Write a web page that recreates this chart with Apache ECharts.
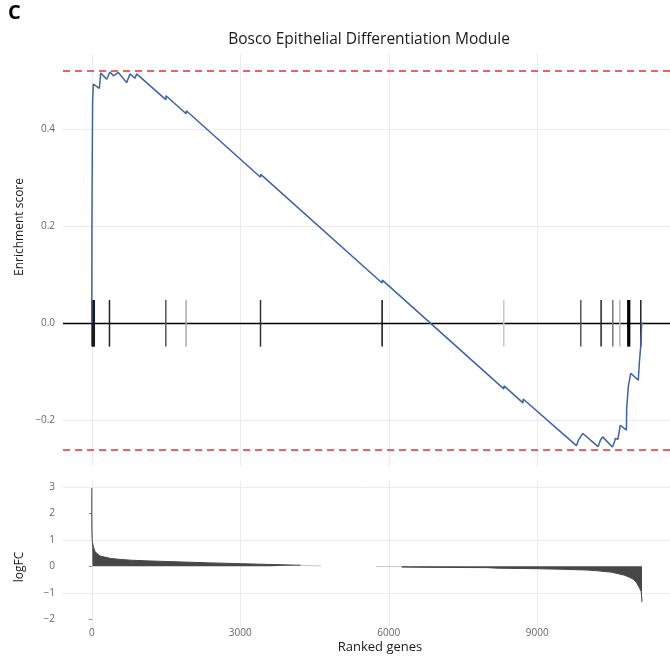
<!DOCTYPE html>
<html>
<head>
<meta charset="utf-8">
<script src="https://cdn.jsdelivr.net/npm/echarts@6/dist/echarts.min.js"></script>
<style>
html,body{margin:0;padding:0;background:#ffffff;}
#chart{width:670px;height:660px;}
</style>
</head>
<body>
<div id="chart"></div>
<script>
// ---------------- DATA ----------------
const TITLE = 'Bosco Epithelial Differentiation Module';
const PANEL_LABEL = 'C';
const X_TITLE = 'Ranked genes';
const ES_TITLE = 'Enrichment score';
const FC_TITLE = 'logFC';

const X_TICKS = [0, 3000, 6000, 9000];
const ES_TICKS = [-0.2, 0.0, 0.2, 0.4];
const FC_TICKS = [-2, -1, 0, 1, 2, 3];

// running enrichment score (vertices of the curve)
const esRank = [0, 2, 5, 9, 16, 31, 152, 180, 300, 367, 435, 536, 704, 771, 872, 906,
  1495, 1500, 1905, 1910, 3408, 3413, 5865, 5870, 8323, 8328, 8710, 8715,
  9790, 9835, 9860, 9885, 9920, 10228, 10275, 10290, 10320, 10518, 10560, 10576, 10628, 10677,
  10800, 10806, 10838, 10887, 11040, 11061, 11089, 11109, 11135];
const esValue = [0, 0.186, 0.26, 0.333, 0.455, 0.493, 0.484, 0.516, 0.503, 0.518, 0.510, 0.517, 0.496, 0.514, 0.505, 0.514,
  0.461, 0.469, 0.432, 0.438, 0.301, 0.307, 0.083, 0.089, -0.135, -0.129, -0.164, -0.156,
  -0.252, -0.240, -0.243, -0.232, -0.227, -0.254, -0.241, -0.244, -0.234, -0.255, -0.244, -0.237, -0.239, -0.210,
  -0.220, -0.175, -0.131, -0.103, -0.117, -0.082, -0.048, 0.0, 0.0];

// positions of the gene-set members in the ranking
const hitRank = [5, 20, 35, 50, 357, 1495, 1905, 3408, 5865, 8323, 9879, 10289, 10525, 10667, 10830, 10845, 10865, 11091];

// ranked logFC profile (positive head, negative tail)
const posRank = [0, 1, 4, 12, 30, 65, 165, 370, 570, 800, 1200, 1700, 2400, 3000, 3600, 4220, 4240, 4630];
const posFC   = [2.95, 1.56, 1.1, 0.93, 0.75, 0.55, 0.39, 0.30, 0.26, 0.23, 0.20, 0.17, 0.13, 0.10, 0.07, 0.04, 0.012, 0.008];
const negRank = [5740, 6240, 6260, 7000, 8000, 8200, 9000, 9500, 10000, 10220, 10500, 10750, 10850, 10950, 11010, 11060, 11100, 11115];
const negFC   = [-0.008, -0.012, -0.03, -0.04, -0.05, -0.07, -0.09, -0.11, -0.14, -0.17, -0.22, -0.33, -0.40, -0.50, -0.63, -0.80, -0.95, -1.35];

// ---------------- LAYOUT & STYLE ----------------
const FONT = 'Open Sans';
const X_MIN = -582, X_MAX = 11681;
const ES_MIN = -0.294, ES_MAX = 0.555;
const FC_MIN = -2.29, FC_MAX = 3.22;
const FC_GRIDLINES = [3, 1, -1];
const TICK_HALF = 0.048;
const GRID_COLOR = '#ebebeb';
const TEXT_COLOR = '#666666';
const hitShade = ['#1a1a1a', '#1a1a1a', '#1a1a1a', '#1a1a1a', '#222222', '#555555', '#aaaaaa', '#333333', '#111111',
  '#c8c8c8', '#555555', '#222222', '#777777', '#bbbbbb', '#000000', '#000000', '#000000', '#222222'];
const TAIL_LIMIT = 0.02;

const esMax = Math.max(...esValue);
const esMin = Math.min(...esValue);

function minusFmt(d) {
  return function (v) {
    const s = Math.abs(v).toFixed(d);
    return (v < -1e-9 ? '\u2212' : '') + s;
  };
}

function split(ranks, vals) {
  const main = [], tail = [];
  ranks.forEach((r, i) => {
    const v = vals[i];
    if (Math.abs(v) >= TAIL_LIMIT) main.push([r, v]); else tail.push([r, v]);
  });
  return { main, tail };
}
const posParts = split(posRank, posFC);
const negParts = split(negRank, negFC);
if (posParts.main.length && posParts.tail.length) posParts.tail.unshift(posParts.main[posParts.main.length - 1]);
if (negParts.main.length && negParts.tail.length) negParts.tail.push(negParts.main[0]);

const chart = echarts.init(document.getElementById('chart'), null, { renderer: 'canvas' });

const gridLine = { color: GRID_COLOR, width: 1, type: 'solid' };

const option = {
  animation: false,
  backgroundColor: '#ffffff',
  grid: [
    { left: 63, right: 0, top: 54, height: 412 },
    { left: 63, right: 0, top: 481, height: 146 }
  ],
  xAxis: [
    {
      gridIndex: 0, type: 'value', min: X_MIN, max: X_MAX,
      axisLine: { show: false }, splitLine: { show: false },
      axisTick: { show: true, customValues: X_TICKS, length: 4, lineStyle: { color: '#888888', width: 1 } },
      axisLabel: { show: false }
    },
    {
      gridIndex: 1, type: 'value', min: X_MIN, max: X_MAX,
      axisLine: { show: false }, splitLine: { show: false },
      axisTick: { show: false },
      axisLabel: { show: true, customValues: X_TICKS, margin: 1, fontSize: 10, fontFamily: FONT, color: TEXT_COLOR,
        formatter: function (v) { return String(Math.round(v)); } }
    }
  ],
  yAxis: [
    {
      gridIndex: 0, type: 'value', min: ES_MIN, max: ES_MAX,
      axisLine: { show: false }, splitLine: { show: false },
      axisTick: { show: true, customValues: ES_TICKS, length: 3, lineStyle: { color: '#888888', width: 1 } },
      axisLabel: { show: true, customValues: ES_TICKS, margin: 8, fontSize: 10, fontFamily: FONT, color: TEXT_COLOR, formatter: minusFmt(1) }
    },
    {
      gridIndex: 1, type: 'value', min: FC_MIN, max: FC_MAX,
      axisLine: { show: false }, splitLine: { show: false },
      axisTick: { show: true, customValues: FC_TICKS, length: 3, lineStyle: { color: '#888888', width: 1 } },
      axisLabel: { show: true, customValues: FC_TICKS, margin: 8, fontSize: 10, fontFamily: FONT, color: TEXT_COLOR, formatter: minusFmt(0) }
    }
  ],
  graphic: [
    { type: 'text', left: 8, top: 3, style: { text: PANEL_LABEL, fontSize: 20, fontWeight: 'bold', fontFamily: FONT, fill: '#000000' } },
    { type: 'text', x: 369, y: 40, style: { text: TITLE, fontSize: 15.5, fontFamily: FONT, fill: '#1a1a1a', align: 'center', verticalAlign: 'middle' } },
    { type: 'text', x: 20, y: 227, rotation: Math.PI / 2, style: { text: ES_TITLE, fontSize: 12, fontFamily: FONT, fill: '#1a1a1a', align: 'center', verticalAlign: 'middle' } },
    { type: 'text', x: 20, y: 567, rotation: Math.PI / 2, style: { text: FC_TITLE, fontSize: 12, fontFamily: FONT, fill: '#1a1a1a', align: 'center', verticalAlign: 'middle' } },
    { type: 'text', x: 380, y: 647, style: { text: X_TITLE, fontSize: 13, fontFamily: FONT, fill: '#1a1a1a', align: 'center', verticalAlign: 'middle' } }
  ],
  series: [
    // grid lines, top panel
    {
      type: 'line', xAxisIndex: 0, yAxisIndex: 0, data: [], z: 1, silent: true,
      markLine: {
        z: 1, silent: true, symbol: 'none', label: { show: false }, animation: false,
        lineStyle: gridLine,
        data: X_TICKS.map(v => ({ xAxis: v })).concat(ES_TICKS.filter(v => v !== 0).map(v => ({ yAxis: v })))
      }
    },
    // zero line
    {
      type: 'line', xAxisIndex: 0, yAxisIndex: 0, data: [], z: 2, silent: true,
      markLine: {
        z: 2, silent: true, symbol: 'none', label: { show: false }, animation: false,
        lineStyle: { color: '#000000', width: 1.3, type: 'solid' },
        data: [{ yAxis: 0 }]
      }
    },
    // gene-set hit ticks
    {
      type: 'custom', xAxisIndex: 0, yAxisIndex: 0, z: 3, silent: true,
      data: hitRank.map(r => [r, 0]),
      renderItem: function (params, api) {
        const x = api.value(0);
        const p1 = api.coord([x, TICK_HALF]);
        const p2 = api.coord([x, -TICK_HALF]);
        return {
          type: 'line',
          shape: { x1: p1[0], y1: p1[1], x2: p2[0], y2: p2[1] },
          style: { stroke: hitShade[params.dataIndex] || '#000', lineWidth: 1.5 }
        };
      }
    },
    // running enrichment score
    {
      type: 'line', xAxisIndex: 0, yAxisIndex: 0, z: 4, silent: true,
      data: esRank.map((r, i) => [r, esValue[i]]),
      showSymbol: false,
      lineStyle: { color: '#3d62a8', width: 1.5 }
    },
    // max / min ES dashed lines
    {
      type: 'line', xAxisIndex: 0, yAxisIndex: 0, data: [], z: 6, silent: true,
      markLine: {
        z: 6, silent: true, symbol: 'none', label: { show: false }, animation: false,
        lineStyle: { color: '#e8312f', width: 1.6, type: [7, 5] },
        data: [{ yAxis: esMax }, { yAxis: esMin }]
      }
    },
    // grid lines, bottom panel
    {
      type: 'line', xAxisIndex: 1, yAxisIndex: 1, data: [], z: 1, silent: true,
      markLine: {
        z: 1, silent: true, symbol: 'none', label: { show: false }, animation: false,
        lineStyle: gridLine,
        data: X_TICKS.map(v => ({ xAxis: v })).concat(FC_GRIDLINES.map(v => ({ yAxis: v })))
      }
    },
    // logFC positive
    {
      type: 'line', xAxisIndex: 1, yAxisIndex: 1, z: 3, silent: true, showSymbol: false,
      data: posParts.main,
      lineStyle: { color: '#474747', width: 1 },
      areaStyle: { color: '#474747', opacity: 1, origin: 0 }
    },
    {
      type: 'line', xAxisIndex: 1, yAxisIndex: 1, z: 2, silent: true, showSymbol: false,
      data: posParts.tail,
      lineStyle: { color: '#c4c4c4', width: 1 }
    },
    // logFC negative
    {
      type: 'line', xAxisIndex: 1, yAxisIndex: 1, z: 2, silent: true, showSymbol: false,
      data: negParts.tail,
      lineStyle: { color: '#c4c4c4', width: 1 }
    },
    {
      type: 'line', xAxisIndex: 1, yAxisIndex: 1, z: 3, silent: true, showSymbol: false,
      data: negParts.main,
      lineStyle: { color: '#474747', width: 1 },
      areaStyle: { color: '#474747', opacity: 1, origin: 0 }
    }
  ]
};

chart.setOption(option);
</script>
</body>
</html>
